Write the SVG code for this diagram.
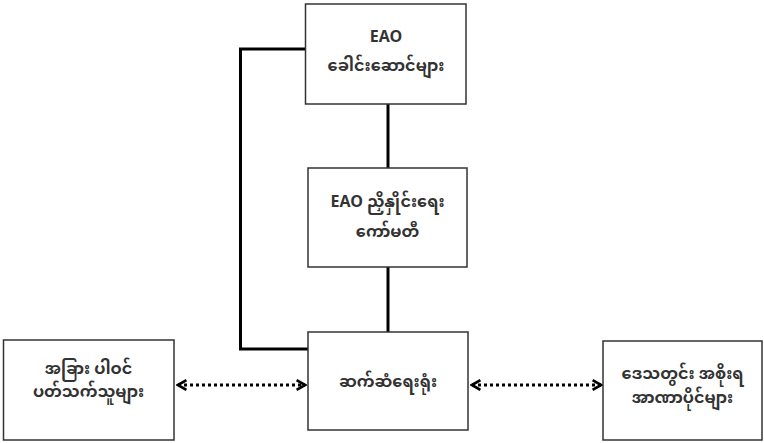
<svg xmlns="http://www.w3.org/2000/svg" width="764" height="443" viewBox="0 0 764 443">
  <defs>
    <style>
      .box { fill: #ffffff; stroke: #333333; stroke-width: 1.5; }
      .lbl { font-family: "Noto Sans Myanmar", "Padauk", "Myanmar Text", "Noto Sans", "DejaVu Sans", sans-serif; font-size: 16px; font-weight: bold; fill: #333333; text-anchor: middle; }
      .solid { fill: none; stroke: #000000; stroke-width: 3; }
      .dotted { fill: none; stroke: #000000; stroke-width: 3; stroke-dasharray: 3 3; }
    </style>
    <marker id="chev" viewBox="0 0 10 10" refX="8" refY="5" markerWidth="4" markerHeight="4" orient="auto-start-reverse" markerUnits="strokeWidth">
      <path d="M1,1 L8,5 L1,9" fill="none" stroke="#000000" stroke-width="2.2"/>
    </marker>
  </defs>
  <rect width="764" height="443" fill="#ffffff"/>
  <g id="connectors">
    <polyline class="solid" points="305,49 240.5,49 240.5,349 308,349"/>
    <line class="solid" x1="388" y1="104" x2="388" y2="168"/>
    <line class="solid" x1="388" y1="267" x2="388" y2="332"/>
    <line class="dotted" x1="178" y1="385" x2="305" y2="385" marker-start="url(#chev)" marker-end="url(#chev)"/>
    <line class="dotted" x1="472" y1="385" x2="601" y2="385" marker-start="url(#chev)" marker-end="url(#chev)"/>
  </g>
  <g id="eao-leaders">
    <rect class="box" x="305.5" y="4" width="160.5" height="100"/>
    <text class="lbl" x="386" y="42">EAO</text>
    <text class="lbl" x="386" y="71">ခေါင်းဆောင်များ</text>
  </g>
  <g id="eao-committee">
    <rect class="box" x="308" y="168" width="159" height="99"/>
    <text class="lbl" x="387.5" y="207">EAO ညှိနှိုင်းရေး</text>
    <text class="lbl" x="387.5" y="237">ကော်မတီ</text>
  </g>
  <g id="liaison-office">
    <rect class="box" x="308" y="332" width="160" height="98"/>
    <text class="lbl" x="388" y="387">ဆက်ဆံရေးရုံး</text>
  </g>
  <g id="other-stakeholders">
    <rect class="box" x="3.5" y="340" width="170.5" height="100"/>
    <text class="lbl" x="88.5" y="374">အခြား ပါဝင်</text>
    <text class="lbl" x="88.5" y="397">ပတ်သက်သူများ</text>
  </g>
  <g id="local-authorities">
    <rect class="box" x="603" y="341" width="159" height="99"/>
    <text class="lbl" x="682.5" y="379">ဒေသတွင်း အစိုးရ</text>
    <text class="lbl" x="682.5" y="403">အာဏာပိုင်များ</text>
  </g>
</svg>
